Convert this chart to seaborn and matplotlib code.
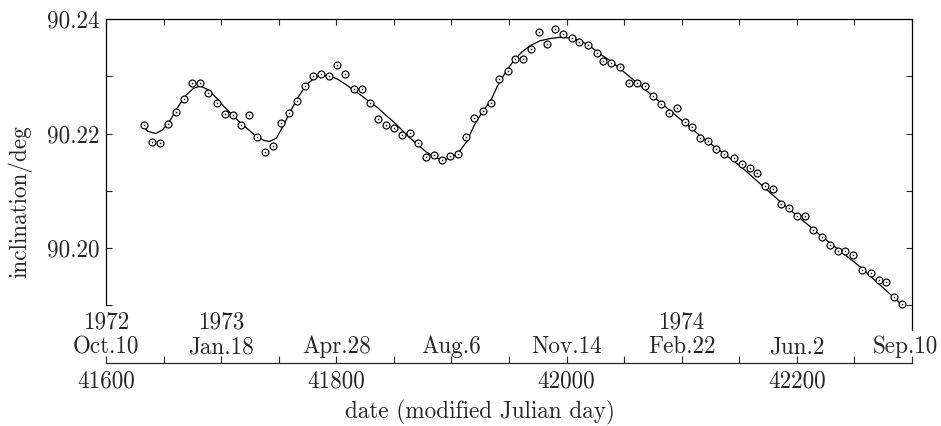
import matplotlib
matplotlib.use("Agg")
import matplotlib.pyplot as plt
import matplotlib.transforms as mtransforms
from matplotlib.ticker import FixedLocator, FixedFormatter, NullFormatter, FormatStrFormatter
import seaborn as sns
import pandas as pd
import numpy as np

# ---------------- data ----------------
obs_day = [41633, 41640, 41647, 41654, 41661, 41668, 41675, 41682, 41689, 41696,
           41703, 41710, 41717, 41724, 41731, 41738, 41745, 41752, 41759, 41766,
           41773, 41780, 41787, 41794, 41801, 41808, 41815, 41822, 41829, 41836,
           41843, 41850, 41857, 41864, 41871, 41878, 41885, 41892, 41899, 41906,
           41913, 41920, 41927, 41934, 41941, 41949, 41955, 41962, 41969, 41976,
           41983, 41990, 41997, 42005, 42011, 42019, 42026, 42032, 42039, 42046,
           42054, 42061, 42068, 42075, 42082, 42089, 42096, 42103, 42109, 42116,
           42123, 42130, 42137, 42145, 42152, 42159, 42165, 42172, 42179, 42186,
           42193, 42200, 42207, 42214, 42222, 42229, 42236, 42242, 42249, 42257,
           42264, 42271, 42277, 42284, 42291]
obs_incl = [90.2215, 90.2185, 90.2184, 90.2217, 90.2238, 90.2260, 90.2288, 90.2288, 90.2270, 90.2254,
            90.2234, 90.2233, 90.2214, 90.2232, 90.2194, 90.2167, 90.2178, 90.2218, 90.2235, 90.2257,
            90.2283, 90.2301, 90.2304, 90.2301, 90.2319, 90.2304, 90.2277, 90.2277, 90.2254, 90.2225,
            90.2214, 90.2210, 90.2198, 90.2201, 90.2183, 90.2159, 90.2162, 90.2153, 90.2161, 90.2164,
            90.2194, 90.2227, 90.2239, 90.2254, 90.2296, 90.2310, 90.2330, 90.2330, 90.2348, 90.2377,
            90.2356, 90.2382, 90.2374, 90.2366, 90.2360, 90.2355, 90.2341, 90.2327, 90.2324, 90.2316,
            90.2288, 90.2289, 90.2283, 90.2265, 90.2252, 90.2235, 90.2244, 90.2220, 90.2211, 90.2193,
            90.2187, 90.2173, 90.2165, 90.2157, 90.2147, 90.2140, 90.2131, 90.2109, 90.2103, 90.2077,
            90.2069, 90.2056, 90.2056, 90.2032, 90.2020, 90.2006, 90.1995, 90.1995, 90.1987, 90.1961,
            90.1956, 90.1944, 90.1940, 90.1914, 90.1903]

fit_day = [41631, 41636, 41643, 41649, 41656, 41662, 41669, 41676, 41682, 41689,
           41696, 41702, 41709, 41716, 41723, 41730, 41737, 41742, 41748, 41753,
           41760, 41767, 41774, 41781, 41788, 41795, 41801, 41808, 41815, 41822,
           41829, 41836, 41843, 41850, 41857, 41864, 41871, 41878, 41885, 41892,
           41899, 41906, 41913, 41920, 41927, 41934, 41940, 41947, 41954, 41961,
           41968, 41977, 41986, 41994, 42003, 42012, 42020, 42029, 42038, 42046,
           42081, 42116, 42151, 42185, 42220, 42255, 42291]
fit_incl = [90.2218, 90.2204, 90.2200, 90.2206, 90.2224, 90.2245, 90.2266, 90.2279, 90.2283, 90.2276,
            90.2262, 90.2248, 90.2234, 90.2220, 90.2208, 90.2196, 90.2188, 90.2186, 90.2192, 90.2210,
            90.2238, 90.2264, 90.2285, 90.2297, 90.2302, 90.2300, 90.2295, 90.2286, 90.2276, 90.2266,
            90.2255, 90.2245, 90.2232, 90.2220, 90.2206, 90.2192, 90.2180, 90.2168, 90.2159, 90.2154,
            90.2157, 90.2166, 90.2185, 90.2215, 90.2238, 90.2257, 90.2283, 90.2307, 90.2327, 90.2342,
            90.2353, 90.2362, 90.2366, 90.2368, 90.2367, 90.2362, 90.2353, 90.2339, 90.2327, 90.2314,
            90.2255, 90.2196, 90.2143, 90.2082, 90.2023, 90.1967, 90.1901]

ytick_major = [90.20, 90.22, 90.24]
ytick_minor = [90.19, 90.21, 90.23]
mjd_ticks = [41600, 41800, 42000, 42200]
mjd_labels = ["41600", "41800", "42000", "42200"]
date_mjd = [41600, 41700, 41800, 41900, 42000, 42100, 42200, 42300]
date_labels = ["Oct.10", "Jan.18", "Apr.28", "Aug.6", "Nov.14", "Feb.22", "Jun.2", "Sep.10"]
year_labels = ["1972", "1973", "", "", "", "1974", "", ""]

obs = pd.DataFrame({"day": obs_day, "incl": obs_incl})
fit = pd.DataFrame({"day": fit_day, "incl": fit_incl})

# ---------------- style ----------------
sns.set_style("ticks")
plt.rcParams["font.family"] = ["cmr10", "DejaVu Serif"]
plt.rcParams["axes.formatter.use_mathtext"] = True
FS = 16.7

W, H = 941, 426
fig = plt.figure(figsize=(W / 100, H / 100), dpi=100)

def fx(px):
    return px / W

def fy(py):
    return 1 - py / H

x0, x1 = 106, 912
y_top, y_bot = 19, 330
ax = fig.add_axes([fx(x0), fy(y_bot), fx(x1) - fx(x0), fy(y_top) - fy(y_bot)])
ax.set_facecolor("none")

sns.lineplot(data=fit, x="day", y="incl", ax=ax, color="black", lw=0.9,
             sort=False, estimator=None, zorder=2)
sns.scatterplot(data=obs, x="day", y="incl", ax=ax, marker="o", s=25,
                facecolor="white", edgecolor="black", linewidth=0.85, zorder=3)
sns.scatterplot(data=obs, x="day", y="incl", ax=ax, marker="o", s=1.3,
                color="black", linewidth=0, zorder=4)

ax.set_xlim(41600, 42300)
ax.set_ylim(90.24 - (y_bot - y_top) / 5725.0, 90.24)
ax.set_xlabel("")
ax.set_ylabel("")

for s in ["left", "right", "top"]:
    ax.spines[s].set_linewidth(0.9)
    ax.spines[s].set_color("black")
ax.spines["bottom"].set_visible(False)
ax.spines["left"].set_bounds(90.19, 90.24)

ax.xaxis.set_major_locator(FixedLocator(list(range(41600, 42301, 50))))
ax.xaxis.set_major_formatter(NullFormatter())
ax.yaxis.set_major_locator(FixedLocator(ytick_major))
ax.yaxis.set_minor_locator(FixedLocator(ytick_minor))
ax.yaxis.set_major_formatter(FormatStrFormatter("%.2f"))
ax.tick_params(axis="x", which="both", direction="in", top=True, bottom=False,
               labelbottom=False, labeltop=False, length=4.5, width=0.8)
ax.tick_params(axis="y", which="both", direction="in", left=True, right=True,
               length=4.5, width=0.8, labelsize=FS, pad=4.7)

# ---------------- separate date axis ----------------
y_axis2 = 363
ax2 = fig.add_axes([fx(x0), fy(y_axis2), fx(x1) - fx(x0), 0.03])
ax2.set_facecolor("none")
ax2.set_xlim(41600, 42300)
ax2.set_ylim(0, 1)
for s in ["left", "right", "top"]:
    ax2.spines[s].set_visible(False)
ax2.spines["bottom"].set_linewidth(0.9)
ax2.set_yticks([])
ax2.xaxis.set_major_locator(FixedLocator(mjd_ticks))
ax2.xaxis.set_major_formatter(FixedFormatter(mjd_labels))
ax2.xaxis.set_minor_locator(FixedLocator(list(range(41600, 42301, 50))))
ax2.tick_params(axis="x", which="both", direction="in", length=5, width=0.8,
                labelsize=FS, pad=5.5)

tr = mtransforms.blended_transform_factory(ax2.transData, fig.transFigure)
for i, (d, m, yr) in enumerate(zip(date_mjd, date_labels, year_labels)):
    t = tr
    if i == len(date_mjd) - 1:
        # last label sits slightly left so it stays inside the figure
        t = mtransforms.offset_copy(tr, fig=fig, x=-7, y=0, units="dots")
    ax2.text(d, fy(353), m, transform=t, ha="center", va="baseline", fontsize=FS)
    if yr:
        ax2.text(d, fy(328.5), yr, transform=t, ha="center", va="baseline", fontsize=FS)

fig.text(fx(479.5), fy(418), "date (modified Julian day)", ha="center", va="baseline",
         fontsize=FS)
fig.text(fx(20), fy(201.5), "inclination/deg", ha="center", va="center",
         rotation=90, fontsize=FS)

fig.savefig("out.png", dpi=100)
